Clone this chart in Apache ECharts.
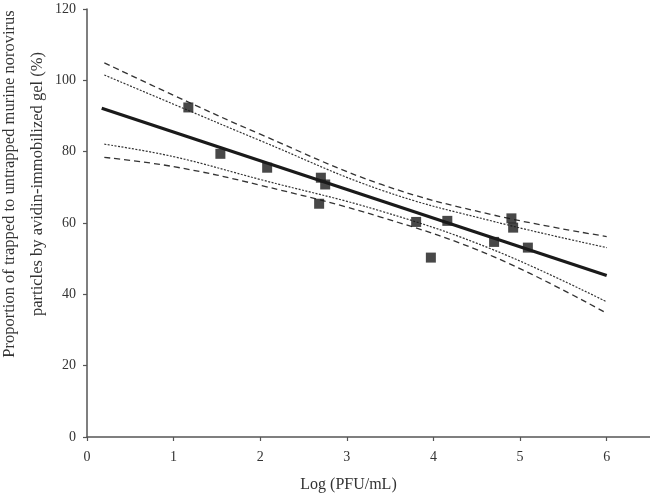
<!DOCTYPE html>
<html>
<head>
<meta charset="utf-8">
<script src="https://cdn.jsdelivr.net/npm/echarts@6/dist/echarts.min.js"></script>
<style>html,body{margin:0;padding:0;background:#fff}#c{width:650px;height:493px}</style>
</head>
<body>
<div id="c"></div>
<script>
// Observed data points (Log PFU/mL, %)
const pointX = [1.17, 1.54, 2.08, 2.70, 2.75, 2.68, 3.80, 3.97, 4.16, 4.70, 4.90, 4.92, 5.09];
const pointY = [92.4, 79.4, 75.5, 72.7, 70.8, 65.4, 60.3, 50.3, 60.6, 54.7, 61.3, 58.7, 53.1];
// Regression line end points
const lineX = [0.17, 6];
const lineY = [92.2, 45.3];
// Confidence bands
const bandX = [0.2, 1, 2, 3.4, 4.7, 6];
const upperOuter = [104.9, 95.8, 84.9, 70.8, 62.2, 56.2];
const upperInner = [101.5, 93.3, 83.1, 69.2, 60.4, 53.1];
const lowerInner = [82.1, 78.6, 72.2, 63.3, 52.4, 37.9];
const lowerOuter = [78.4, 75.8, 70.6, 61.6, 50.5, 34.7];
const xTicks = [0, 1, 2, 3, 4, 5, 6];
const yTicks = [0, 20, 40, 60, 80, 100, 120];

const zip = (xs, ys) => xs.map((x, i) => [x, ys[i]]);
const font = 'Liberation Serif';
const axisColor = '#555';

const chart = echarts.init(document.getElementById('c'));
chart.setOption({
  animation: false,
  grid: {left: 87, right: 0, top: 9, bottom: 56, containLabel: false, outerBoundsMode: 'none'},
  xAxis: {
    type: 'value', min: 0, max: 6.5, interval: 1,
    name: 'Log (PFU/mL)', nameLocation: 'middle', nameGap: 40,
    nameTextStyle: {fontFamily: font, fontSize: 16, color: '#333', padding: [0, 40, 0, 0]},
    axisLine: {show: true, lineStyle: {color: axisColor, width: 1.5}},
    axisTick: {show: true, inside: false, length: 4, lineStyle: {color: axisColor, width: 1.2}},
    axisLabel: {fontFamily: font, fontSize: 14, color: '#333', margin: 13, showMaxLabel: false,
      formatter: v => xTicks.includes(v) ? String(v) : ''},
    splitLine: {show: false}
  },
  yAxis: {
    type: 'value', min: 0, max: 120, interval: 20,
    name: 'Proportion of trapped to untrapped murine norovirus\nparticles by avidin-immobilized gel (%)',
    nameLocation: 'middle', nameGap: 35, nameMoveOverlap: false,
    nameTextStyle: {fontFamily: font, fontSize: 16.5, color: '#333', lineHeight: 28, padding: [0, 0, 0, 78]},
    axisLine: {show: true, lineStyle: {color: axisColor, width: 1.5}},
    axisTick: {show: true, inside: false, length: 4, lineStyle: {color: axisColor, width: 1.2}},
    axisLabel: {fontFamily: font, fontSize: 14, color: '#333', margin: 11,
      formatter: v => yTicks.includes(v) ? String(v) : ''},
    splitLine: {show: false}
  },
  series: [
    {type: 'line', data: zip(bandX, upperOuter), smooth: 0.4, symbol: 'none',
      lineStyle: {color: '#333', width: 1.3, type: [6, 4]}},
    {type: 'line', data: zip(bandX, lowerOuter), smooth: 0.4, symbol: 'none',
      lineStyle: {color: '#333', width: 1.3, type: [6, 4]}},
    {type: 'line', data: zip(bandX, upperInner), smooth: 0.4, symbol: 'none',
      lineStyle: {color: '#333', width: 1.2, type: [2, 1.5]}},
    {type: 'line', data: zip(bandX, lowerInner), smooth: 0.4, symbol: 'none',
      lineStyle: {color: '#333', width: 1.2, type: [2, 1.5]}},
    {type: 'line', data: zip(lineX, lineY), symbol: 'none',
      lineStyle: {color: '#1a1a1a', width: 3.2}},
    {type: 'scatter', data: zip(pointX, pointY), symbol: 'rect', symbolSize: 10,
      itemStyle: {color: '#1a1a1a'}, z: 5}
  ]
});
</script>
</body>
</html>
